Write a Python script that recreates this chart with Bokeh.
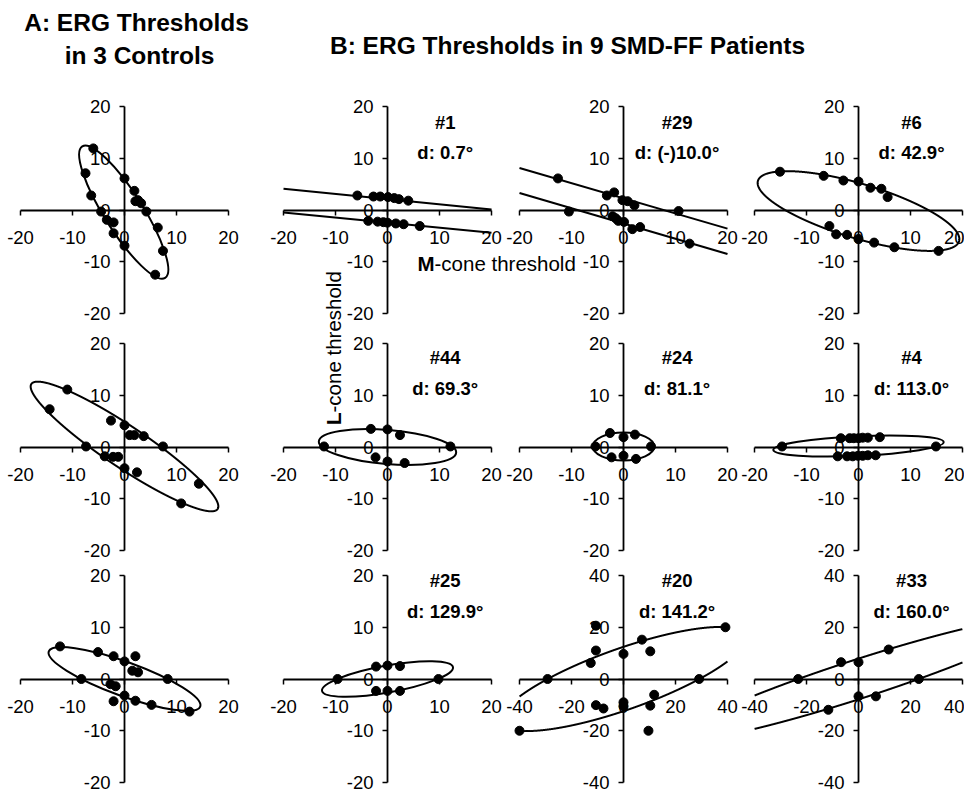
import numpy as np
from bokeh.plotting import figure
from bokeh.models import GridBox, Range1d, LinearAxis, FixedTicker
from bokeh.core.properties import value
from bokeh.embed import file_html
from bokeh.resources import INLINE

FONT = "Liberation Sans"

# ---------------- data ----------------
# Panel A: 3 controls.  Fitted ellipse = [cx, cy, width, height, angle_deg]
ctrl1_x = [-6.0, -7.5, -6.4, -4.5, -3.4, -2.1, -2.1, 0.0, 0.0, 1.9, 2.1, 2.6, 3.2, 4.2, 6.4, 7.4, 5.9]
ctrl1_y = [11.9, 7.1, 2.8, -0.3, -1.9, -2.4, -4.5, -6.9, 6.1, 3.7, 1.7, 1.9, 1.3, -0.3, -3.4, -7.9, -12.5]
ctrl1_ell = [-0.15, -0.4, 29.9, 7.45, 122.2]

ctrl2_x = [-11.0, -14.4, -2.6, 0.0, 1.0, 1.9, 3.7, -7.4, 7.4, -3.8, -2.2, -1.2, 0.0, 2.4, 14.3, 10.9]
ctrl2_y = [11.1, 7.3, 5.1, 4.2, 2.3, 2.3, 2.1, 0.1, 0.1, -1.8, -1.9, -1.9, -4.1, -4.9, -7.1, -10.9]
ctrl2_ell = [0.0, 0.1, 43.2, 8.0, 146.0]

ctrl3_x = [-12.4, -5.1, -2.1, 0.0, 2.1, 1.5, 2.6, -8.3, 8.3, -2.7, -1.7, 0.0, -2.1, 2.1, 5.2, 12.5]
ctrl3_y = [6.3, 5.2, 4.4, 3.4, 4.4, 1.6, 1.3, 0.0, 0.0, -1.0, -1.4, -3.2, -4.3, -4.2, -5.0, -6.3]
ctrl3_ell = [0.0, 0.0, 31.0, 6.6, -20.0]

# Panel B: 9 SMD-FF patients
p1_x = [-5.8, -2.7, -1.4, 0.1, 1.3, 2.2, 4.0, -3.7, -1.9, -0.8, 0.0, 1.6, 3.1, 6.2]
p1_y = [2.8, 2.6, 2.6, 2.5, 2.3, 2.1, 1.8, -2.1, -2.25, -2.35, -2.45, -2.6, -2.75, -3.1]
p1_seg_x0 = [-20, -20]
p1_seg_y0 = [4.1, -0.5]
p1_seg_x1 = [20, 20]
p1_seg_y1 = [0.1, -4.4]

p29_x = [-12.6, -3.2, -1.8, -0.2, 0.8, 2.1, 10.6, -10.5, -2.1, -1.5, -1.0, 0.1, 1.7, 3.2, 12.7]
p29_y = [6.1, 2.8, 3.4, 1.9, 1.7, 0.9, -0.2, -0.3, -1.2, -1.6, -2.1, -2.3, -3.7, -3.3, -6.5]
p29_seg_x0 = [-20, -20]
p29_seg_y0 = [8.1, 3.3]
p29_seg_x1 = [20, 20]
p29_seg_y1 = [-3.6, -8.5]

p6_x = [-15.1, -6.7, -2.9, 0.0, 2.3, 4.4, 5.6, -5.6, -4.3, -2.2, 0.0, 3.0, 6.9, 15.4]
p6_y = [7.4, 6.6, 5.7, 5.5, 4.3, 4.1, 2.5, -3.1, -4.7, -4.8, -5.6, -6.3, -7.2, -7.9]
p6_ell = [0.0, -0.2, 40.4, 10.5, -16.8]

p44_x = [-3.2, 0.0, 2.4, -12.2, 12.1, -2.3, 0.0, 3.3]
p44_y = [3.5, 3.4, 2.3, 0.1, 0.1, -2.0, -2.8, -3.1]
p44_ell = [0.0, 0.0, 26.5, 6.6, -4.7]

p24_x = [-2.6, 0.0, 2.2, -5.4, 5.3, -2.3, 0.0, 2.4]
p24_y = [2.7, 1.9, 2.4, 0.1, 0.1, -2.0, -1.7, -2.3]
p24_ell = [0.0, 0.1, 11.8, 5.4, 0.0]

p4_x = [-3.4, -1.7, -0.9, 0.0, 0.8, 1.8, 4.1, -4.0, -2.2, -1.1, -0.1, 0.8, 1.8, 3.3, -14.7, 14.9]
p4_y = [1.7, 1.7, 1.7, 1.7, 1.8, 1.8, 1.9, -1.8, -1.8, -1.8, -1.7, -1.7, -1.6, -1.6, 0.1, 0.1]
p4_ell = [0.0, 0.2, 32.8, 3.8, 2.6]

p25_x = [-2.2, 0.0, 2.4, -9.6, 9.8, -2.2, 0.0, 2.4]
p25_y = [2.4, 2.6, 2.5, 0.0, 0.0, -2.3, -2.3, -2.3]
p25_ell = [0.0, 0.0, 25.6, 5.2, 10.3]

p20_x = [-10.6, -10.6, -12.6, 0.0, 7.1, 10.3, 39.2, -29.2, 29.1, -10.6, 0.0, 0.0, -7.7, 10.3, 11.8, 9.6, -40.0]
p20_y = [20.6, 11.0, 6.2, 9.7, 15.2, 10.7, 20.0, 0.0, 0.0, -10.1, -9.0, -10.5, -11.4, -10.3, -6.1, -20.0, -20.0]
p20_ell = [0.0, 0.0, 99.9, 23.5, 19.65]

p33_x = [11.6, -6.7, 0.0, -23.2, 23.2, 0.0, 6.7, -11.6]
p33_y = [11.4, 6.5, 6.5, 0.0, 0.0, -6.7, -6.7, -11.9]
p33_ell = [0.0, 0.0, 146.0, 15.0, 18.0]

patient_ids = ["#1", "#29", "#6", "#44", "#24", "#4", "#25", "#20", "#33"]
patient_d = ["d: 0.7°", "d: (-)10.0°", "d: 42.9°", "d: 69.3°", "d: 81.1°",
             "d: 113.0°", "d: 129.9°", "d: 141.2°", "d: 160.0°"]

title_a = ["A: ERG Thresholds", "in 3 Controls"]
title_b = "B: ERG Thresholds in 9 SMD-FF Patients"
xlab = ("M", "-cone threshold")
ylab = ("L", "-cone threshold")

# ---------------- layout ----------------
COL_W = [256, 249, 235, 224]
ROW_H = [90, 237, 236, 229]
COL_ML = [20, 27, 14, 14]      # left edge of the +-L box inside each column cell
ROW_MT = [16, 16, 12]          # top edge of the +-L box inside each row cell
FW, FH = 208, 207              # pixel size of the +-L box
TXT_X = [0.0, 0.555, 0.515, 0.51]
TXT_Y = [(0.845, 0.556), (0.865, 0.565), (0.95, 0.65)]


def axis(L, standoff):
    ticks = [-L, -L // 2, 0, L // 2, L]
    return LinearAxis(fixed_location=0, bounds=(-L, L), ticker=FixedTicker(ticks=ticks),
                      major_label_overrides={t: str(t) for t in ticks},
                      axis_line_color="black", axis_line_width=1.8,
                      major_tick_line_color="black", major_tick_line_width=1.5,
                      major_tick_out=5, major_tick_in=0,
                      minor_tick_out=0, minor_tick_in=0,
                      major_label_text_font=FONT, major_label_text_font_size="18.5px",
                      major_label_text_color="black", major_label_standoff=standoff)


def clipped_arcs(ell, L, n=6000):
    """Pieces of the fitted ellipse that lie inside the +-L plotting box."""
    cx, cy, w, h, ang = ell
    t = np.linspace(0.0, 2 * np.pi, n)
    th = np.radians(ang)
    ex = cx + w / 2 * np.cos(t) * np.cos(th) - h / 2 * np.sin(t) * np.sin(th)
    ey = cy + w / 2 * np.cos(t) * np.sin(th) + h / 2 * np.sin(t) * np.cos(th)
    inside = (np.abs(ex) <= L) & (np.abs(ey) <= L)
    xs_list, ys_list = [], []
    start = None
    for i, ok in enumerate(inside):
        if ok and start is None:
            start = i
        if (not ok or i == n - 1) and start is not None:
            end = i if not ok else i + 1
            if end - start > 1:
                xs_list.append(ex[start:end].tolist())
                ys_list.append(ey[start:end].tolist())
            start = None
    return xs_list, ys_list


def make_panel(r, c, L, xs, ys, ell=None, seg=None, labels=None):
    W, H = COL_W[c], ROW_H[r + 1]
    ml = COL_ML[c]
    mr = W - ml - FW
    mt = ROW_MT[r]
    mb = H - mt - FH
    sx = FW / (2 * L)
    sy = FH / (2 * L)
    p = figure(width=W, height=H, output_backend="svg", toolbar_location=None,
               x_range=Range1d(-L - ml / sx, L + mr / sx),
               y_range=Range1d(-L - mb / sy, L + mt / sy),
               x_axis_location=None, y_axis_location=None,
               min_border_left=0, min_border_right=0,
               min_border_top=0, min_border_bottom=0,
               background_fill_color=None, border_fill_color=None,
               outline_line_color=None)
    p.grid.visible = False
    p.add_layout(axis(L, 16), "below")
    p.add_layout(axis(L, 9), "left")
    if ell is not None:
        if ell[2] / 2 < L and ell[3] / 2 < L * 0.9:
            p.ellipse(x=[ell[0]], y=[ell[1]], width=[ell[2]], height=[ell[3]],
                      angle=[ell[4]], angle_units="deg", fill_color=None,
                      line_color="black", line_width=2)
        else:
            axs, ays = clipped_arcs(ell, L)
            p.multi_line(xs=axs, ys=ays, line_color="black", line_width=2)
    if seg is not None:
        p.segment(x0=seg[0], y0=seg[1], x1=seg[2], y1=seg[3],
                  line_color="black", line_width=2)
    p.scatter(x=xs, y=ys, size=9, color="black")
    if labels is not None:
        fy1, fy2 = TXT_Y[r]
        tx = TXT_X[c] * L
        p.text(x=[tx, tx], y=[fy1 * L, fy2 * L], text=list(labels),
               text_font=value(FONT), text_font_style="bold",
               text_font_size="18.5px", text_align="center",
               text_baseline="middle", text_color="black")
    return [(p, r + 1, c)]


TOTAL_W, TOTAL_H = sum(COL_W), sum(ROW_H)
ov = figure(width=TOTAL_W, height=TOTAL_H, x_range=Range1d(0, TOTAL_W),
            y_range=Range1d(0, TOTAL_H), output_backend="svg", toolbar_location=None,
            x_axis_location=None, y_axis_location=None, min_border_left=0,
            min_border_right=0, min_border_top=0, min_border_bottom=0,
            outline_line_color=None, background_fill_color="white",
            border_fill_color="white")
ov.grid.visible = False


def Y(py):
    return TOTAL_H - py


tstyle = dict(text_font=value(FONT), text_font_style="bold", text_font_size="24.5px",
              text_align="center", text_baseline="middle", text_color="black")
ov.text(x=[136, 139], y=[Y(22), Y(55)], text=title_a, **tstyle)
ov.text(x=[567], y=[Y(45)], text=[title_b], **tstyle)

lstyle = dict(text_font=value(FONT), text_font_size="20.5px", text_baseline="middle",
              text_color="black")
ov.text(x=[434], y=[Y(263)], text=[xlab[0]], text_align="right",
        text_font_style="bold", **lstyle)
ov.text(x=[434], y=[Y(263)], text=[xlab[1]], text_align="left", **lstyle)
ov.text(x=[333], y=[Y(412)], text=[ylab[0]], text_align="right", angle=1.5707963,
        text_font_style="bold", **lstyle)
ov.text(x=[333], y=[Y(412)], text=[ylab[1]], text_align="left", angle=1.5707963,
        **lstyle)

children = [(ov, 0, 0, 4, 4)]
children += make_panel(0, 0, 20, ctrl1_x, ctrl1_y, ell=ctrl1_ell)
children += make_panel(1, 0, 20, ctrl2_x, ctrl2_y, ell=ctrl2_ell)
children += make_panel(2, 0, 20, ctrl3_x, ctrl3_y, ell=ctrl3_ell)
children += make_panel(0, 1, 20, p1_x, p1_y, seg=(p1_seg_x0, p1_seg_y0, p1_seg_x1, p1_seg_y1),
                       labels=(patient_ids[0], patient_d[0]))
children += make_panel(0, 2, 20, p29_x, p29_y,
                       seg=(p29_seg_x0, p29_seg_y0, p29_seg_x1, p29_seg_y1),
                       labels=(patient_ids[1], patient_d[1]))
children += make_panel(0, 3, 20, p6_x, p6_y, ell=p6_ell, labels=(patient_ids[2], patient_d[2]))
children += make_panel(1, 1, 20, p44_x, p44_y, ell=p44_ell, labels=(patient_ids[3], patient_d[3]))
children += make_panel(1, 2, 20, p24_x, p24_y, ell=p24_ell, labels=(patient_ids[4], patient_d[4]))
children += make_panel(1, 3, 20, p4_x, p4_y, ell=p4_ell, labels=(patient_ids[5], patient_d[5]))
children += make_panel(2, 1, 20, p25_x, p25_y, ell=p25_ell, labels=(patient_ids[6], patient_d[6]))
children += make_panel(2, 2, 40, p20_x, p20_y, ell=p20_ell, labels=(patient_ids[7], patient_d[7]))
children += make_panel(2, 3, 40, p33_x, p33_y, ell=p33_ell, labels=(patient_ids[8], patient_d[8]))

grid = GridBox(children=children, rows=[f"{h}px" for h in ROW_H],
               cols=[f"{w}px" for w in COL_W], spacing=0)

open("out.html", "w").write(file_html(grid, INLINE))
